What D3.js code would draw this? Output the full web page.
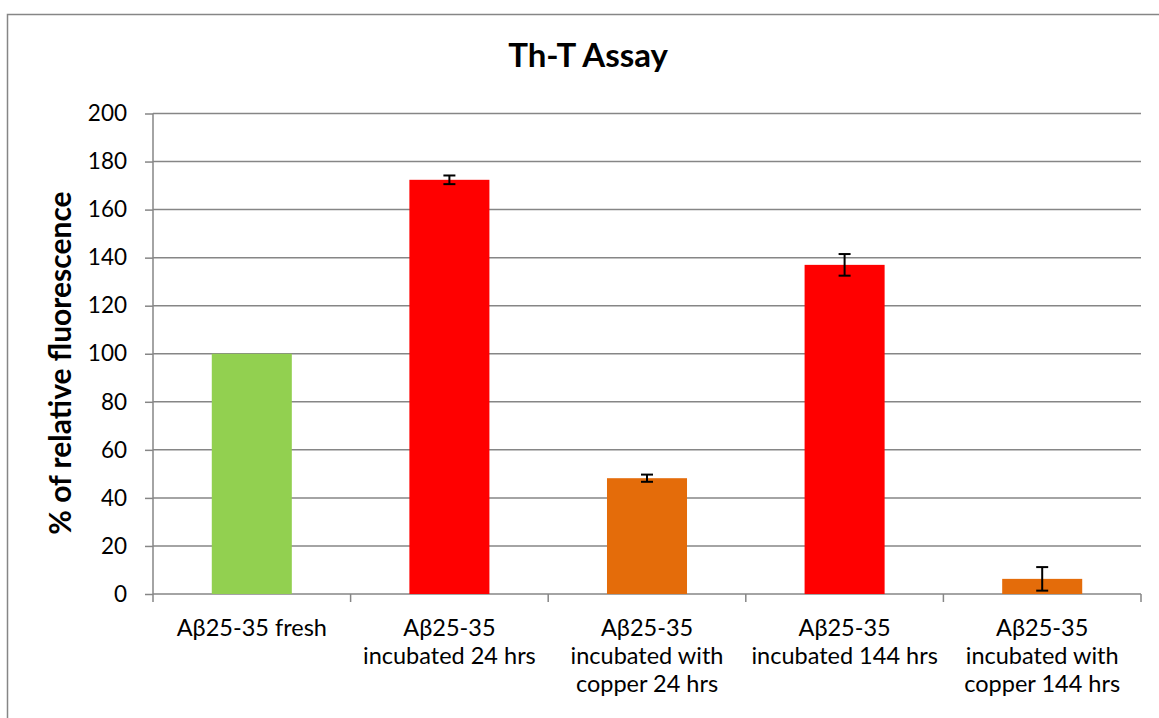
<!DOCTYPE html>
<html>
<head>
<meta charset="utf-8">
<script src="https://cdn.jsdelivr.net/npm/d3@7"></script>
<style>
  body { margin: 0; background: #fff; }
  svg text { font-family: Lato, "Open Sans", sans-serif; fill: #000; }
</style>
</head>
<body>
<svg id="chart"></svg>
<script>
// data
var categories = [
  ["A\u03b225-35 fresh"],
  ["A\u03b225-35", "incubated 24 hrs"],
  ["A\u03b225-35", "incubated with", "copper 24 hrs"],
  ["A\u03b225-35", "incubated 144 hrs"],
  ["A\u03b225-35", "incubated with", "copper 144 hrs"]
];
var values = [100, 172.4, 48.2, 137, 6.3];
var errors = [0, 1.8, 1.5, 4.5, 4.9];
var barColors = ["#92D050", "#FF0000", "#E46C0A", "#FF0000", "#E46C0A"];
var yTicks = [0, 20, 40, 60, 80, 100, 120, 140, 160, 180, 200];

var W = 1159, H = 718;
var margin = { top: 113.5, right: 18, bottom: 124, left: 153 },
	width = W - margin.left - margin.right,
	height = H - margin.top - margin.bottom;

var svg = d3.select('#chart')
	.attr('width', W)
	.attr('height', H);

// outer chart border (runs off the right and bottom edges)
svg.append('rect')
	.attr('x', 7.5).attr('y', 14.5)
	.attr('width', W + 20).attr('height', H + 20)
	.attr('fill', 'none')
	.attr('stroke', '#868686')
	.attr('stroke-width', 1.5);

svg.append('text')
	.attr('x', 588).attr('y', 67)
	.attr('text-anchor', 'middle')
	.attr('font-size', 33)
	.attr('font-weight', 'bold')
	.text('Th-T Assay');

var g = svg.append('g')
	.attr('transform', 'translate(' + margin.left + ',' + margin.top + ')');

var x = d3.scaleBand()
	.domain(d3.range(categories.length))
	.range([0, width])
	.padding(0);

var y = d3.scaleLinear()
	.domain([0, 200])
	.range([height, 0]);

// gridlines
g.selectAll('.grid')
	.data(yTicks.filter(function(d){ return d > 0; }))
	.enter().append('line')
	.attr('class', 'grid')
	.attr('x1', 0).attr('x2', width)
	.attr('y1', function(d){ return y(d); })
	.attr('y2', function(d){ return y(d); })
	.attr('stroke', '#868686')
	.attr('stroke-width', 1.5);

// y axis
var yAxis = d3.axisLeft(y)
	.tickValues(yTicks)
	.tickSize(8)
	.tickPadding(18);

var yAx = g.append('g').call(yAxis);
yAx.select('.domain').attr('stroke', '#868686').attr('stroke-width', 1.5)
	.attr('d', 'M0,' + height + 'V0');
yAx.selectAll('.tick line').attr('stroke', '#868686').attr('stroke-width', 1.5);
yAx.selectAll('.tick text')
	.attr('font-size', 22.5)
	.attr('font-family', 'Lato, "Open Sans", sans-serif')
	.attr('fill', '#000');

// x axis line and tick marks at band edges
g.append('line')
	.attr('x1', 0).attr('x2', width)
	.attr('y1', height).attr('y2', height)
	.attr('stroke', '#868686')
	.attr('stroke-width', 1.5);

g.selectAll('.xtick')
	.data(d3.range(categories.length + 1))
	.enter().append('line')
	.attr('class', 'xtick')
	.attr('x1', function(d){ return d * x.step(); })
	.attr('x2', function(d){ return d * x.step(); })
	.attr('y1', height).attr('y2', height + 8)
	.attr('stroke', '#868686')
	.attr('stroke-width', 1.5);

var barW = x.bandwidth() * 0.405;

g.selectAll('.bar')
	.data(values)
	.enter().append('rect')
	.attr('class', 'bar')
	.attr('x', function(d, i){ return x(i) + (x.bandwidth() - barW) / 2; })
	.attr('y', function(d){ return y(d); })
	.attr('width', barW)
	.attr('height', function(d){ return height - y(d); })
	.attr('fill', function(d, i){ return barColors[i]; });

// error bars
var eb = g.selectAll('.err')
	.data(values.map(function(v, i){ return { v: v, e: errors[i], i: i }; })
		.filter(function(d){ return d.e > 0; }))
	.enter().append('g')
	.attr('class', 'err')
	.attr('stroke', '#000')
	.attr('stroke-width', 2);

eb.append('line')
	.attr('x1', function(d){ return x(d.i) + x.bandwidth() / 2; })
	.attr('x2', function(d){ return x(d.i) + x.bandwidth() / 2; })
	.attr('y1', function(d){ return y(d.v + d.e); })
	.attr('y2', function(d){ return y(d.v - d.e); });

[1, -1].forEach(function(s){
	eb.append('line')
		.attr('x1', function(d){ return x(d.i) + x.bandwidth() / 2 - 6; })
		.attr('x2', function(d){ return x(d.i) + x.bandwidth() / 2 + 6; })
		.attr('y1', function(d){ return y(d.v + s * d.e); })
		.attr('y2', function(d){ return y(d.v + s * d.e); });
});

// category labels
var lab = g.selectAll('.xlabel')
	.data(categories)
	.enter().append('text')
	.attr('class', 'xlabel')
	.attr('text-anchor', 'middle')
	.attr('font-size', 23.5)
	.attr('transform', function(d, i){
		return 'translate(' + (x(i) + x.bandwidth() / 2) + ',' + (height + 42) + ')';
	});

lab.selectAll('tspan')
	.data(function(d){ return d; })
	.enter().append('tspan')
	.attr('x', 0)
	.attr('dy', function(d, i){ return i === 0 ? 0 : 28; })
	.text(function(d){ return d; });

// y axis title
svg.append('text')
	.attr('transform', 'translate(71,' + 363 + ') rotate(-90)')
	.attr('text-anchor', 'middle')
	.attr('font-size', 30)
	.attr('font-weight', 'bold')
	.text('% of relative fluorescence');
</script>
</body>
</html>
